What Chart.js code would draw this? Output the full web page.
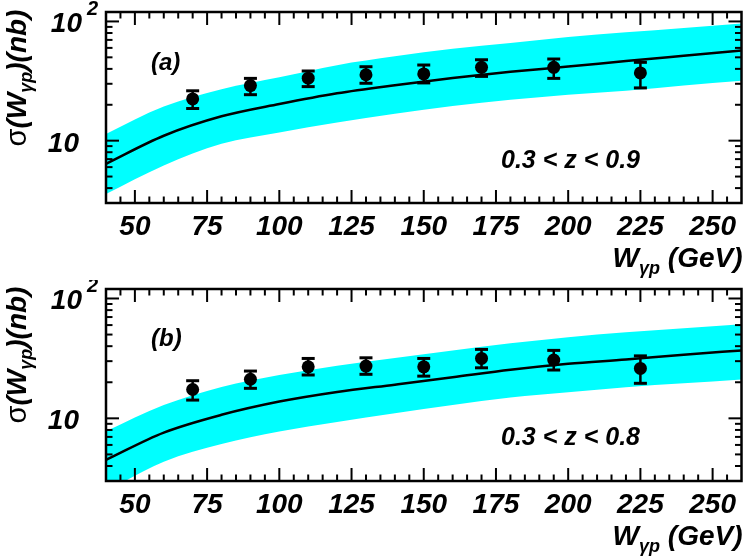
<!DOCTYPE html>
<html>
<head>
<meta charset="utf-8">
<script src="https://cdn.jsdelivr.net/npm/chart.js@4.4.0/dist/chart.umd.min.js"></script>
<style>
    html, body { margin: 0; padding: 0; background: #fff; }
    #wrap { position: relative; width: 748px; height: 559px; }
    canvas { position: absolute; left: 0; }
</style>
</head>
<body>
<div id="wrap">
    <canvas id="chart-a" width="748" height="280" style="top:0"></canvas>
    <canvas id="chart-b" width="748" height="279" style="top:280px"></canvas>
</div>
<script>
// measured points (W in GeV, sigma in nb)
const wBins = [70, 90, 110, 130, 150, 170, 195, 225];
const sigmaA = [22.4, 29.0, 33.4, 35.7, 36.3, 41.2, 41.2, 37.0];
const sigmaAHi = [26.2, 33.3, 38.4, 41.7, 43.1, 47.7, 48.4, 45.4];
const sigmaALo = [18.6, 24.3, 28.4, 30.3, 30.5, 34.6, 33.3, 27.7];
const sigmaB = [17.4, 21.2, 26.9, 27.3, 26.9, 31.6, 30.6, 26.1];
const sigmaBHi = [20.6, 24.8, 31.6, 32.0, 31.6, 37.6, 36.9, 33.2];
const sigmaBLo = [14.2, 17.8, 23.0, 23.3, 22.5, 26.4, 25.3, 19.6];

// theory curve and its uncertainty band
const wTheory = [40, 60, 80, 100, 120, 140, 160, 180, 200, 220, 240, 260];
const theoryA = [6.4, 11.0, 16.0, 20.3, 25.0, 29.2, 33.5, 37.8, 41.8, 46.5, 51.5, 57.0];
const bandAHi = [11.4, 19.3, 27.0, 34.0, 43.0, 51.0, 59.0, 66.0, 74.0, 81.0, 88.0, 96.0];
const bandALo = [3.57, 6.2, 9.4, 11.7, 14.2, 16.8, 19.5, 22.0, 24.3, 26.2, 29.0, 31.8];
const theoryB = [4.5, 7.6, 10.7, 13.8, 16.6, 19.1, 22.0, 25.4, 28.5, 31.0, 34.0, 36.8];
const bandBHi = [7.8, 12.9, 18.3, 23.0, 27.5, 31.9, 36.8, 42.3, 47.6, 52.2, 56.5, 61.0];
const bandBLo = [2.46, 4.35, 6.1, 7.75, 9.3, 11.0, 12.9, 14.9, 16.5, 18.2, 19.6, 21.1];

const xTicks = [50, 75, 100, 125, 150, 175, 200, 225, 250];
const yMajor = [10, 100];
const yMinor = [3, 4, 5, 6, 7, 8, 9, 20, 30, 40, 50, 60, 70, 80, 90];

const FONT = '"Liberation Sans", Arial, sans-serif';

function pairs(xs, ys) {
    return xs.map((x, i) => ({x: x, y: ys[i]}));
}

function line(ctx, x1, y1, x2, y2) {
    ctx.beginPath();
    ctx.moveTo(x1, y1);
    ctx.lineTo(x2, y2);
    ctx.stroke();
}

// draws pieces [text, font, baselineShift] one after another from x
function drawPieces(ctx, pieces, x, y) {
    let cx = x;
    pieces.forEach(p => {
        ctx.font = p[1];
        ctx.fillText(p[0], cx, y + p[2]);
        cx += ctx.measureText(p[0]).width;
    });
    return cx;
}

function piecesWidth(ctx, pieces) {
    let w = 0;
    pieces.forEach(p => { ctx.font = p[1]; w += ctx.measureText(p[0]).width; });
    return w;
}

const framePlugin = {
    id: 'frame',
    afterDatasetsDraw(chart) {
        const {ctx, chartArea: a, scales: {x, y}} = chart;
        const o = chart.options.plugins.frame;
        ctx.save();
        ctx.strokeStyle = '#000';
        ctx.fillStyle = '#000';

        // error bars
        o.hi.forEach((hi, i) => {
            const px = x.getPixelForValue(o.w[i]);
            const pHi = y.getPixelForValue(hi);
            const pLo = y.getPixelForValue(o.lo[i]);
            ctx.lineWidth = 2.5;
            line(ctx, px, pHi, px, pLo);
            ctx.lineWidth = 3;
            line(ctx, px - 6.5, pHi, px + 6.5, pHi);
            line(ctx, px - 6.5, pLo, px + 6.5, pLo);
        });

        // frame
        ctx.lineWidth = 2.5;
        ctx.strokeRect(a.left, a.top, a.right - a.left, a.bottom - a.top);

        // x ticks, bottom and top, pointing inwards
        ctx.lineWidth = 2;
        for (let v = 45; v <= 255; v += 5) {
            const px = x.getPixelForValue(v);
            const len = v % 25 === 0 ? 13 : 6.5;
            line(ctx, px, a.bottom, px, a.bottom - len);
            line(ctx, px, a.top, px, a.top + len);
        }
        // y ticks, left and right
        yMajor.concat(yMinor).forEach(v => {
            const py = y.getPixelForValue(v);
            const len = yMajor.includes(v) ? 13 : 6.5;
            line(ctx, a.left, py, a.left + len, py);
            line(ctx, a.right, py, a.right - len, py);
        });

        // x tick labels
        ctx.font = 'italic bold 28px ' + FONT;
        ctx.textAlign = 'center';
        ctx.textBaseline = 'alphabetic';
        xTicks.forEach(v => {
            ctx.fillText(String(v), x.getPixelForValue(v), a.bottom + 32);
        });

        // y tick labels
        ctx.textAlign = 'right';
        const p10 = y.getPixelForValue(10);
        const p100 = y.getPixelForValue(100);
        ctx.fillText('10', 79, p10 + 11);
        ctx.fillText('10', 82, p100 + 11);
        ctx.textAlign = 'left';
        ctx.font = 'italic bold 20px ' + FONT;
        ctx.fillText('2', 87, p100 - 6);

        // y axis title, rotated
        const big = 'italic bold 28px ' + FONT;
        const small = 'italic bold 18px ' + FONT;
        const yTitle = [
            ['\u03c3', '29px ' + FONT, 0],
            ['(W', big, 0],
            ['\u03b3p', small, 6],
            [')(nb)', big, 0]
        ];
        ctx.save();
        ctx.translate(26, a.top + 66);
        ctx.rotate(-Math.PI / 2);
        drawPieces(ctx, yTitle, -piecesWidth(ctx, yTitle) / 2, 0);
        ctx.restore();

        // x axis title, right aligned
        const xTitle = [
            ['W', big, 0],
            ['\u03b3p', small, 7],
            [' (GeV)', big, 0]
        ];
        drawPieces(ctx, xTitle, a.right + 1 - piecesWidth(ctx, xTitle), a.bottom + 64);

        // panel label and z range
        ctx.font = 'italic bold 24px ' + FONT;
        ctx.fillText(o.tag, 151, a.top + o.tagDy);
        ctx.font = 'italic bold 25px ' + FONT;
        ctx.fillText(o.zRange, 501, a.top + 156);

        ctx.restore();
    }
};

function makePanel(id, sigma, hi, lo, theory, bandHi, bandLo, tag, zRange, pad, tagDy) {
    const ctx = document.getElementById(id).getContext('2d');
    return new Chart(ctx, {
        type: 'line',
        data: {
            datasets: [
                {
                    type: 'scatter',
                    data: pairs(wBins, sigma),
                    pointRadius: 6.5,
                    pointBackgroundColor: '#000',
                    pointBorderWidth: 0,
                    showLine: false,
                    order: 0
                },
                {
                    data: pairs(wTheory, theory),
                    borderColor: '#000',
                    borderWidth: 2.5,
                    pointRadius: 0,
                    fill: false,
                    cubicInterpolationMode: 'monotone',
                    order: 1
                },
                {
                    data: pairs(wTheory, bandHi),
                    borderWidth: 0,
                    borderColor: 'rgba(0,0,0,0)',
                    backgroundColor: '#00FFFF',
                    pointRadius: 0,
                    fill: '+1',
                    cubicInterpolationMode: 'monotone',
                    order: 2
                },
                {
                    data: pairs(wTheory, bandLo),
                    borderWidth: 0,
                    borderColor: 'rgba(0,0,0,0)',
                    pointRadius: 0,
                    fill: false,
                    cubicInterpolationMode: 'monotone',
                    order: 3
                }
            ]
        },
        options: {
            responsive: false,
            animation: false,
            events: [],
            layout: {
                padding: pad
            },
            scales: {
                x: {
                    type: 'linear',
                    display: false,
                    min: 40,
                    max: 260
                },
                y: {
                    type: 'logarithmic',
                    display: false,
                    min: 3,
                    max: 120
                }
            },
            plugins: {
                legend: {
                    display: false
                },
                tooltip: {
                    enabled: false
                },
                frame: {
                    w: wBins,
                    hi: hi,
                    lo: lo,
                    tag: tag,
                    tagDy: tagDy,
                    zRange: zRange
                }
            }
        },
        plugins: [framePlugin]
    });
}

makePanel('chart-a', sigmaA, sigmaAHi, sigmaALo, theoryA, bandAHi, bandALo,
    '(a)', '0.3 < z < 0.9', {left: 106, right: 2, top: 12, bottom: 77}, 58);
makePanel('chart-b', sigmaB, sigmaBHi, sigmaBLo, theoryB, bandBHi, bandBLo,
    '(b)', '0.3 < z < 0.8', {left: 106, right: 2, top: 9, bottom: 78}, 57);
</script>
</body>
</html>
